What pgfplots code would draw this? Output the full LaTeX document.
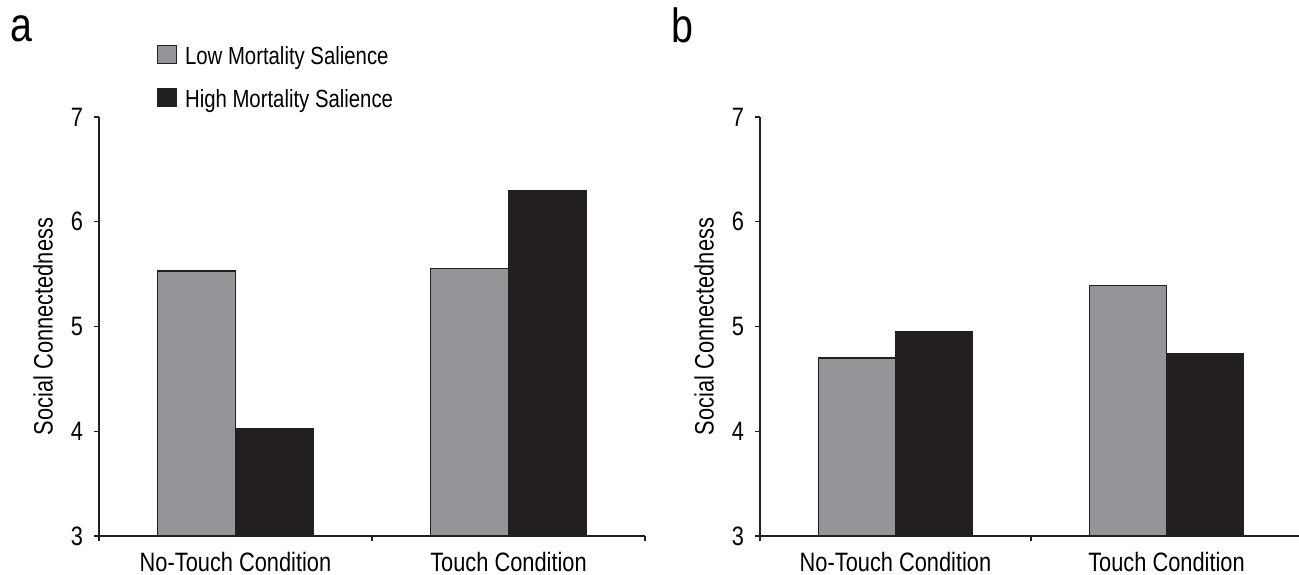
\documentclass[border=0pt]{standalone}
\usepackage{pgfplots}
\pgfplotsset{compat=1.18}
\usepackage{fontspec}
\setmainfont{Liberation Sans}[FakeStretch=0.82]
\definecolor{lowc}{HTML}{939598}
\definecolor{highc}{HTML}{231F20}
\newcommand\lf{\fontsize{12.4}{14}\selectfont}
\newcommand\tf{\fontsize{13.3}{15}\selectfont}
\pgfplotsset{
  panel/.style={
    scale only axis, height=209.5pt,
    ymin=3, ymax=7, ytick={3,4,5,6,7},
    xmin=-0.5, xmax=1.5, xtick={0,1},
    xticklabels={No-Touch Condition, Touch Condition},
    minor xtick={-0.5,0.5,1.5},
    axis x line*=bottom, axis y line*=left,
    tick align=outside, major tick length=2.5pt, minor tick length=2.5pt,
    major x tick style={draw=none},
    axis line style={line width=0.6pt, color=highc},
    every tick/.style={line width=0.6pt, color=highc},
    /pgf/number format/assume math mode=true,
    yticklabel style={font=\tf, xshift=-2pt},
    xticklabel style={font=\tf, yshift=-2pt},
    ylabel={Social Connectedness},
    every axis y label/.style={at={(axis description cs:0,0.5)}, xshift=-28pt, rotate=90, anchor=center, font=\tf},
    ybar=0pt, bar width=0.285,
    clip=true,
  },
  lowbar/.style={fill=lowc, draw=highc, line width=0.6pt},
  highbar/.style={fill=highc, draw=highc, line width=0.6pt},
}
\begin{document}
\begin{tikzpicture}
\path[use as bounding box] (0,0) rectangle (649.5pt,287pt);
\node[anchor=base west, inner sep=0pt, font=\fontsize{24}{28}\selectfont] at (5pt,266pt) {a};
\node[anchor=base west, inner sep=0pt, font=\fontsize{24}{28}\selectfont] at (335.5pt,265.5pt) {b};
\begin{axis}[panel, at={(49.5pt,19pt)}, anchor=south west, width=273pt,
  legend style={at={(axis description cs:0.106,1.172)}, anchor=north west,
    draw=none, fill=none, inner sep=0pt, outer sep=0pt, row sep=10.5pt,
    nodes={inner sep=0pt, font=\lf},
    /tikz/every odd column/.append style={column sep=4pt}},
  legend cell align=left,
  legend image code/.code={\draw[#1] (0pt,-3.5pt) rectangle (9.5pt,5.5pt);},
]
\addplot[lowbar] coordinates {(0,5.53) (1,5.55)};
\addlegendentry{Low Mortality Salience}
\addplot[highbar] coordinates {(0,4.03) (1,6.30)};
\addlegendentry{High Mortality Salience}
\end{axis}
\begin{axis}[panel, at={(380pt,19pt)}, anchor=south west, width=271pt]
\addplot[lowbar] coordinates {(0,4.70) (1,5.39)};
\addplot[highbar] coordinates {(0,4.95) (1,4.74)};
\end{axis}
\end{tikzpicture}
\end{document}
